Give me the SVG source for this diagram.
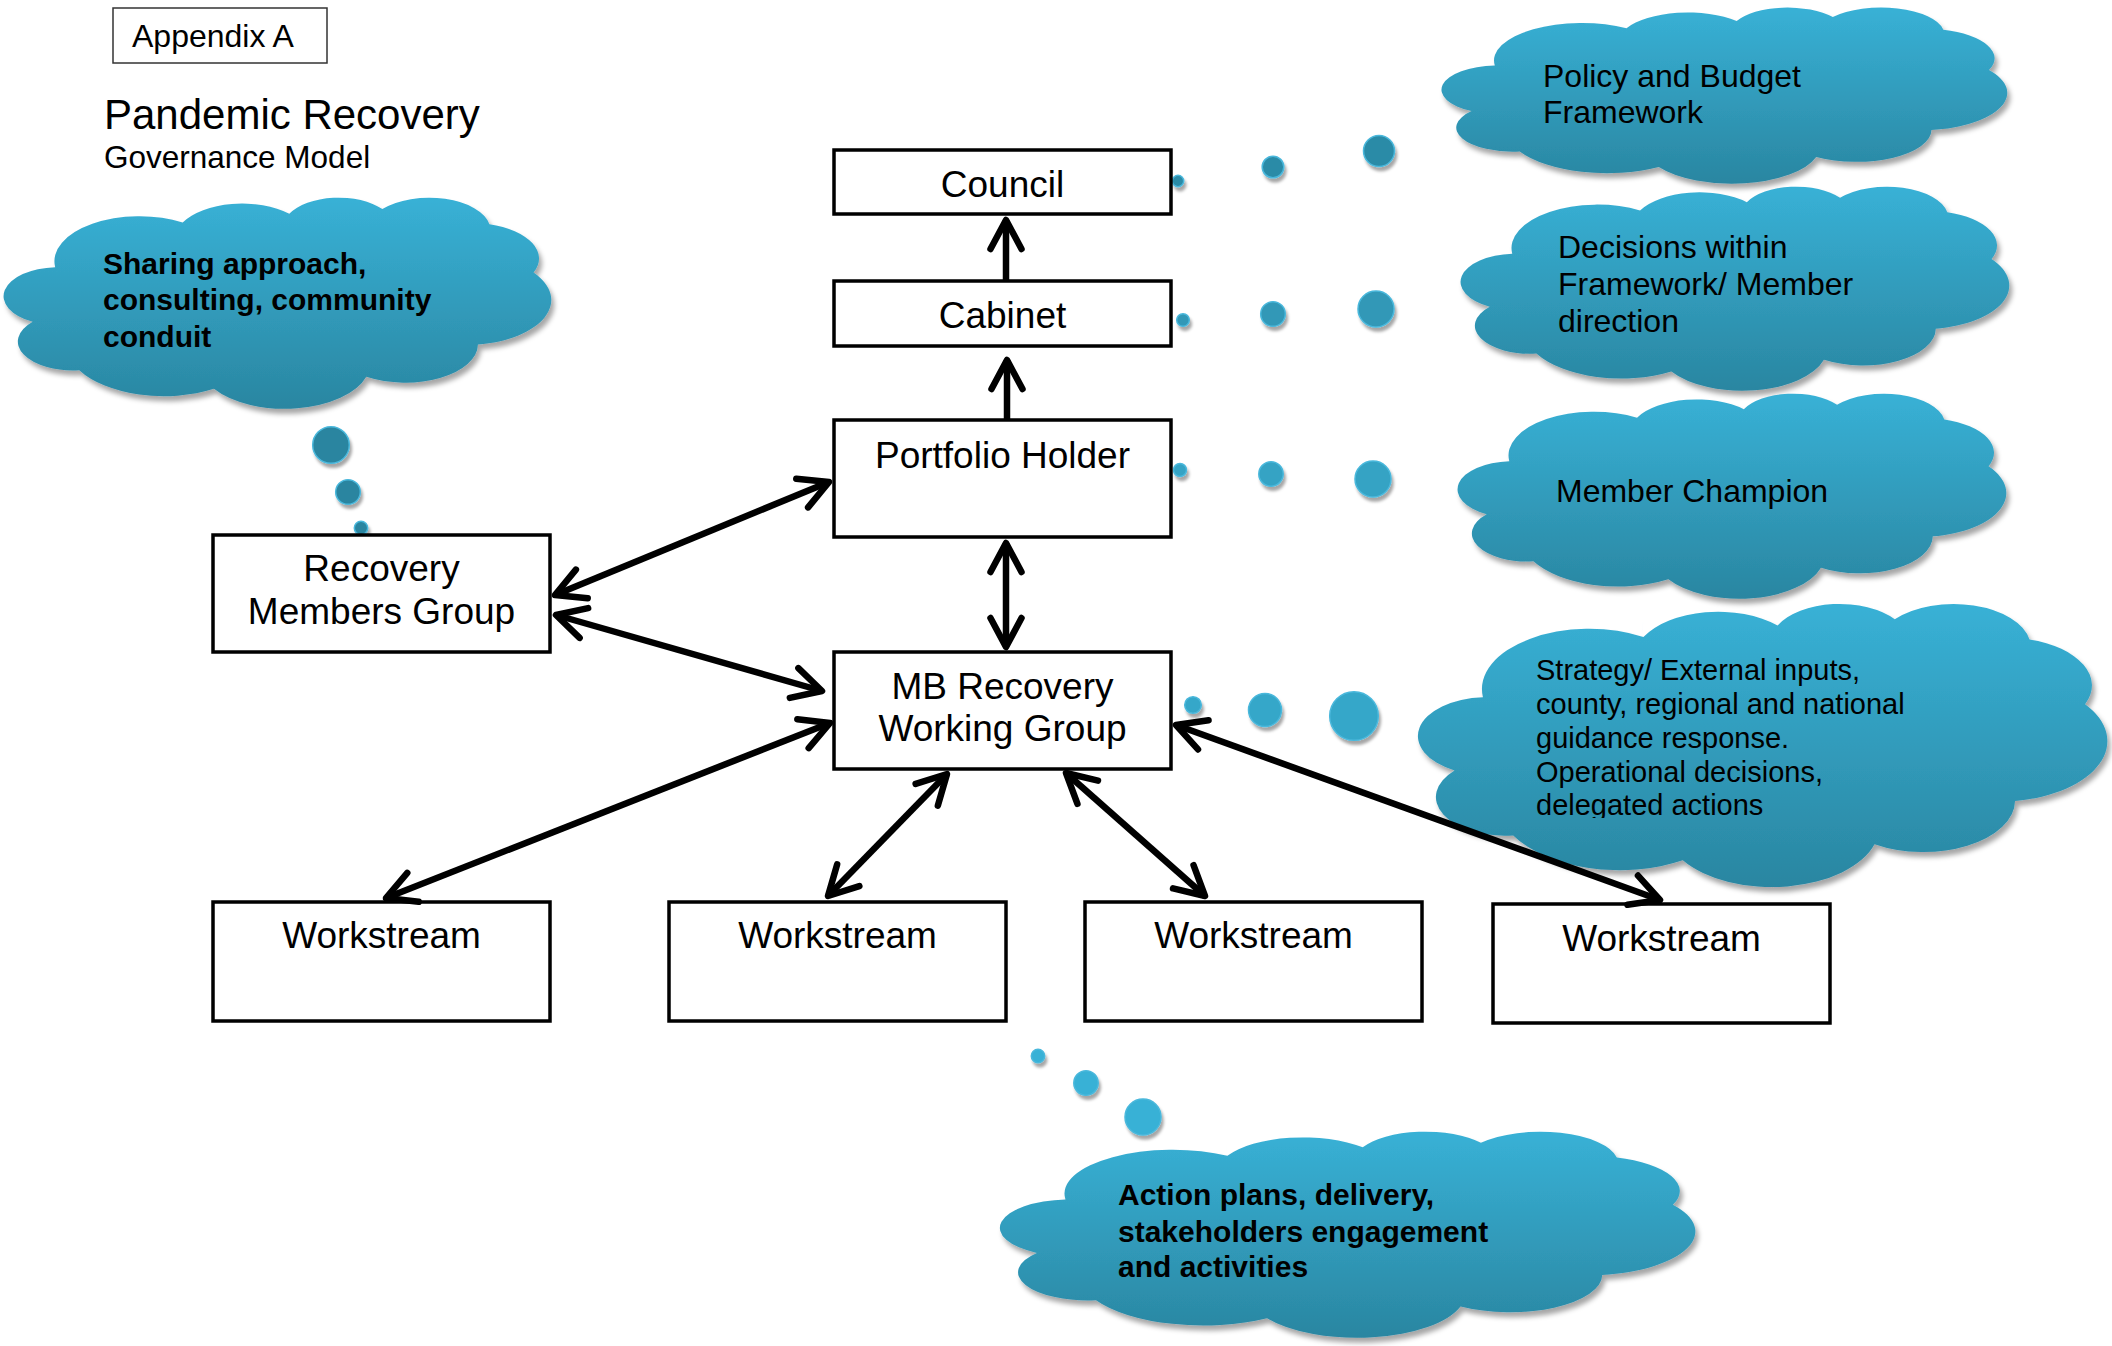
<svg xmlns="http://www.w3.org/2000/svg" xmlns:xlink="http://www.w3.org/1999/xlink" width="2112" height="1346" viewBox="0 0 2112 1346">
<defs>
<style>
text{font-family:"Liberation Sans",Arial,sans-serif;fill:#000}
.bx{fill:#fff;stroke:#000;stroke-width:3.5}
.bt{font-size:37px;text-anchor:middle}
.ct{font-size:32px}
.cb{font-size:30px;font-weight:bold}
.cf{fill:url(#cg);stroke:#43b2d6;stroke-width:1.5;vector-effect:non-scaling-stroke}
.seam{fill:none;stroke:#6cc6e3;stroke-width:1.5;vector-effect:non-scaling-stroke;opacity:0.8}
.dot{stroke:#4ab8dc;stroke-width:1.5}
.cn{fill:none;stroke:#000;stroke-width:6.5;marker-end:url(#ah)}
.cn2{fill:none;stroke:#000;stroke-width:6.5;marker-start:url(#ah);marker-end:url(#ah)}
</style>
<linearGradient id="cg" x1="0" y1="0" x2="0" y2="1">
<stop offset="0" stop-color="#38b1d6"/>
<stop offset="1" stop-color="#2a86a1"/>
</linearGradient>
<filter id="sh" x="-20%" y="-20%" width="140%" height="150%">
<feDropShadow dx="3" dy="5" stdDeviation="2.5" flood-color="#000" flood-opacity="0.35"/>
</filter>
<filter id="dsh" x="-60%" y="-60%" width="220%" height="240%">
<feDropShadow dx="2" dy="4" stdDeviation="1.8" flood-color="#000" flood-opacity="0.35"/>
</filter>
<marker id="ah" markerUnits="userSpaceOnUse" viewBox="-40 -25 50 50" refX="0" refY="0" markerWidth="50" markerHeight="50" orient="auto-start-reverse" overflow="visible">
<path d="M -29 -15.5 L 0 0 L -29 15.5" fill="none" stroke="#000" stroke-width="6.5" stroke-linecap="round" stroke-linejoin="round"/>
</marker>
<path id="cloud" d="M 3900 14370 A 6753 9190 0 0 1 14006 5203 A 5333 7267 0 0 1 22456 3432 A 4365 5945 0 0 1 29834 2482 A 4857 6595 0 0 1 38319 5577 A 5333 7273 0 0 1 41819 15461 A 6775 9220 0 0 1 37408 30206 A 5785 7867 0 0 1 28559 36816 A 6752 9215 0 0 1 16484 39270 A 7720 10543 0 0 1 5807 35478 A 4360 5918 0 0 1 2115 25557 A 4345 5945 0 0 1 3900 14370 Z"/>
<path id="seams" d="M 4693 26177 A 4345 5945 0 0 1 2160 25380 M 6928 34899 A 4360 5918 0 0 1 5820 35280 M 16478 39090 A 6752 9215 0 0 1 15810 37347 M 28827 34751 A 6752 9215 0 0 1 28561 36659 M 34129 22954 A 5785 7867 0 0 1 37381 30090 M 41798 15354 A 5333 7273 0 0 1 40350 18030 M 38324 5426 A 4857 6595 0 0 1 38400 6689 M 29078 3952 A 4857 6595 0 0 1 29820 2339 M 22141 4720 A 4365 5945 0 0 1 22500 3330 M 14000 5192 A 6753 9190 0 0 1 13984 2886 M 4127 15789 A 6753 9190 0 0 1 4056 13585"/>
<clipPath id="stclip"><rect x="1500" y="640" width="500" height="178"/></clipPath>
</defs>

<rect x="0" y="0" width="2112" height="1346" fill="#fff"/>

<g id="header">
<rect x="113" y="8" width="214" height="55" fill="#fff" stroke="#333" stroke-width="1.5"/>
<text x="132" y="47" font-size="32">Appendix A</text>
<text x="104" y="129" font-size="42">Pandemic Recovery</text>
<text x="104" y="168" font-size="31.5">Governance Model</text>
</g>

<g id="cloud-sharing">
<g filter="url(#sh)">
<use href="#cloud" class="cf" transform="translate(6,197) scale(0.012616,0.004884)"/>
</g>
<use href="#seams" class="seam" transform="translate(6,197) scale(0.012616,0.004884)"/>
<g filter="url(#dsh)" fill="#2985a0">
<circle class="dot" cx="331" cy="445" r="18.3"/>
<circle class="dot" cx="348" cy="492" r="12.3"/>
<circle class="dot" cx="361" cy="528" r="6.7"/>
</g>
<text class="cb"><tspan x="103" y="274">Sharing approach,</tspan><tspan x="103" y="310">consulting, community</tspan><tspan x="103" y="347">conduit</tspan></text>
</g>

<g id="cloud-policy">
<g filter="url(#sh)">
<use href="#cloud" class="cf" transform="translate(1444,7) scale(0.013032,0.004074)"/>
</g>
<use href="#seams" class="seam" transform="translate(1444,7) scale(0.013032,0.004074)"/>
<g filter="url(#dsh)" fill="#2c8ba7">
<circle class="dot" cx="1178" cy="181" r="5.7"/>
<circle class="dot" cx="1273" cy="167" r="10.8"/>
<circle class="dot" cx="1379" cy="151" r="15.5"/>
</g>
<text class="ct"><tspan x="1543" y="87">Policy and Budget</tspan><tspan x="1543" y="123">Framework</tspan></text>
</g>

<g id="cloud-decisions">
<g filter="url(#sh)">
<use href="#cloud" class="cf" transform="translate(1463,186) scale(0.012639,0.004722)"/>
</g>
<use href="#seams" class="seam" transform="translate(1463,186) scale(0.012639,0.004722)"/>
<g filter="url(#dsh)" fill="#3098b7">
<circle class="dot" cx="1183" cy="320" r="6.3"/>
<circle class="dot" cx="1273" cy="314" r="12.3"/>
<circle class="dot" cx="1376" cy="309" r="18"/>
</g>
<text class="ct"><tspan x="1558" y="258">Decisions within</tspan><tspan x="1558" y="295">Framework/ Member</tspan><tspan x="1558" y="332">direction</tspan></text>
</g>

<g id="cloud-member">
<g filter="url(#sh)">
<use href="#cloud" class="cf" transform="translate(1460,393) scale(0.012639,0.004745)"/>
</g>
<use href="#seams" class="seam" transform="translate(1460,393) scale(0.012639,0.004745)"/>
<g filter="url(#dsh)" fill="#34a3c4">
<circle class="dot" cx="1180" cy="470" r="6.5"/>
<circle class="dot" cx="1271" cy="474" r="12.2"/>
<circle class="dot" cx="1373" cy="479" r="18"/>
</g>
<text class="ct" x="1556" y="502">Member Champion</text>
</g>

<g id="cloud-strategy">
<g filter="url(#sh)">
<use href="#cloud" class="cf" transform="translate(1421,603) scale(0.015880,0.006551)"/>
</g>
<use href="#seams" class="seam" transform="translate(1421,603) scale(0.015880,0.006551)"/>
<g filter="url(#dsh)" fill="#35a7c9">
<circle class="dot" cx="1193" cy="705" r="8.3"/>
<circle class="dot" cx="1265" cy="710" r="16.5"/>
<circle class="dot" cx="1354" cy="716" r="24.3"/>
</g>
<text font-size="29" clip-path="url(#stclip)"><tspan x="1536" y="680">Strategy/ External inputs,</tspan><tspan x="1536" y="714">county, regional and national</tspan><tspan x="1536" y="748">guidance response.</tspan><tspan x="1536" y="782">Operational decisions,</tspan><tspan x="1536" y="815">delegated actions</tspan></text>
</g>

<g id="cloud-action">
<g filter="url(#sh)">
<use href="#cloud" class="cf" transform="translate(1003,1131) scale(0.016019,0.004769)"/>
</g>
<use href="#seams" class="seam" transform="translate(1003,1131) scale(0.016019,0.004769)"/>
<g filter="url(#dsh)" fill="#38b1d6">
<circle class="dot" cx="1038" cy="1056" r="6.7"/>
<circle class="dot" cx="1086" cy="1083" r="12.2"/>
<circle class="dot" cx="1143" cy="1117" r="18"/>
</g>
<text class="cb"><tspan x="1118" y="1205">Action plans, delivery,</tspan><tspan x="1118" y="1242">stakeholders engagement</tspan><tspan x="1118" y="1277">and activities</tspan></text>
</g>

<g id="node-council"><rect class="bx" x="834" y="150" width="337" height="64"/><text class="bt" x="1002.5" y="197">Council</text></g>
<g id="node-cabinet"><rect class="bx" x="834" y="281" width="337" height="65"/><text class="bt" x="1002.5" y="328">Cabinet</text></g>
<g id="node-portfolio"><rect class="bx" x="834" y="420" width="337" height="117"/><text class="bt" x="1002.5" y="468">Portfolio Holder</text></g>
<g id="node-mb"><rect class="bx" x="834" y="652" width="337" height="117"/><text class="bt"><tspan x="1002.5" y="699">MB Recovery</tspan><tspan x="1002.5" y="741">Working Group</tspan></text></g>
<g id="node-rmg"><rect class="bx" x="213" y="535" width="337" height="117"/><text class="bt"><tspan x="381.5" y="581">Recovery</tspan><tspan x="381.5" y="624">Members Group</tspan></text></g>
<g id="node-ws1"><rect class="bx" x="213" y="902" width="337" height="119"/><text class="bt" x="381.5" y="948">Workstream</text></g>
<g id="node-ws2"><rect class="bx" x="669" y="902" width="337" height="119"/><text class="bt" x="837.5" y="948">Workstream</text></g>
<g id="node-ws3"><rect class="bx" x="1085" y="902" width="337" height="119"/><text class="bt" x="1253.5" y="948">Workstream</text></g>
<g id="node-ws4"><rect class="bx" x="1493" y="904" width="337" height="119"/><text class="bt" x="1661.5" y="951">Workstream</text></g>

<g id="connectors">
<line class="cn" x1="1006" y1="281" x2="1006" y2="220"/>
<line class="cn" x1="1007" y1="420" x2="1007" y2="360"/>
<line class="cn2" x1="1006" y1="543" x2="1006" y2="647"/>
<line class="cn2" x1="555" y1="595" x2="829" y2="482"/>
<line class="cn2" x1="556" y1="615" x2="822" y2="691"/>
<line class="cn2" x1="830" y1="723" x2="386" y2="898"/>
<line class="cn2" x1="947" y1="774" x2="828" y2="896"/>
<line class="cn2" x1="1066" y1="773" x2="1205" y2="896"/>
<line class="cn2" x1="1176" y1="725" x2="1660" y2="900"/>
</g>
</svg>
